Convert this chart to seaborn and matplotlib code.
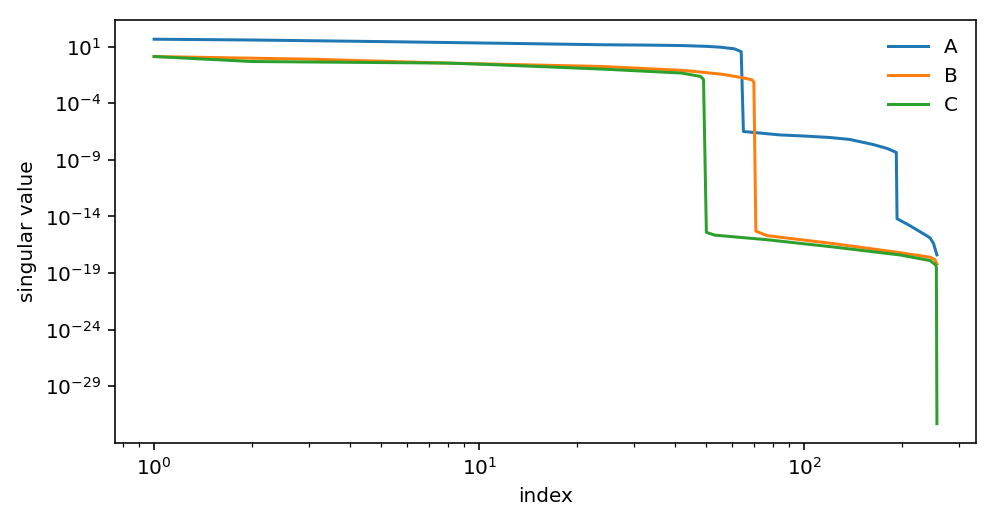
import numpy as np
import pandas as pd
import matplotlib
matplotlib.use("Agg")
import matplotlib.pyplot as plt
import seaborn as sns

# singular value curves (index, log10 of value)
a_idx = [1, 2, 5, 10, 24, 33, 42, 50, 55, 61, 64, 65, 84, 100, 120, 138, 163, 180, 190, 192, 193, 211, 238,
         244, 250, 256]
a_log = [1.65, 1.58, 1.44, 1.32, 1.16, 1.13, 1.09, 1.02, 0.95, 0.8, 0.55, -6.5, -6.8, -6.9, -7.03, -7.2, -7.65,
         -8.0, -8.29, -8.35, -14.2, -14.8, -15.7, -15.9, -16.4, -17.4]

b_idx = [1, 3, 8, 24, 42, 48, 56, 64, 69, 70, 71, 77, 123, 197, 244, 252, 256]
b_log = [0.12, -0.11, -0.46, -0.76, -1.1, -1.25, -1.45, -1.73, -1.93, -2.15, -15.3, -15.7, -16.4, -17.2, -17.6,
         -17.8, -18.2]

c_idx = [1, 2, 8, 10, 24, 42, 48, 49, 50, 53, 77, 123, 197, 244, 254, 255, 256]
c_log = [0.12, -0.32, -0.46, -0.55, -0.99, -1.34, -1.64, -1.9, -15.4, -15.65, -16.06, -16.7, -17.4, -17.9,
         -18.3, -18.5, -32.3]

names = ["A", "B", "C"]

frames = []
for name, idx, lg in zip(names, [a_idx, b_idx, c_idx], [a_log, b_log, c_log]):
    frames.append(pd.DataFrame({"index": idx, "value": 10.0 ** np.array(lg), "matrix": name}))
df = pd.concat(frames, ignore_index=True)

dpi = 144
fig, ax = plt.subplots(figsize=(997 / dpi, 526 / dpi), dpi=dpi)
fig.subplots_adjust(left=0.1153, right=0.979, top=0.962, bottom=0.158)

sns.lineplot(data=df, x="index", y="value", hue="matrix", palette="tab10",
             estimator=None, sort=True, linewidth=1.5, ax=ax)
ax.set_xscale("log")
ax.set_yscale("log")
ax.set_xlabel("index")
ax.set_ylabel("singular value")
ax.legend(frameon=False, loc="upper right")

plt.savefig("out.png", dpi=dpi)
